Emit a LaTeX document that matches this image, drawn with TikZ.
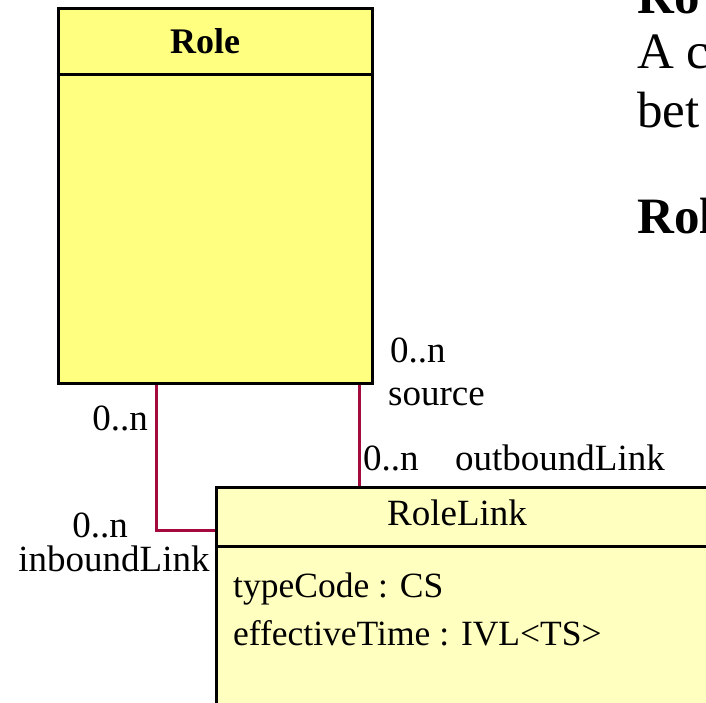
\documentclass[tikz,border=0pt]{standalone}
\usepackage{fontspec}
\setmainfont{Liberation Serif}
\definecolor{rolefill}{RGB}{255,255,128}
\definecolor{linkfill}{RGB}{255,255,192}
\definecolor{assoc}{RGB}{165,10,60}
\newcommand\lblsize{\fontsize{37}{44}\selectfont}
\newcommand\attrsize{\fontsize{35.5}{42}\selectfont}
\newcommand\bigsize{\fontsize{51}{59}\selectfont}
\tikzset{
  classbox/.style={draw=black, line width=3pt, rectangle, inner sep=0pt},
  conn/.style={draw=assoc, line width=2.5pt},
  lbl/.style={inner sep=0pt, font=\lblsize},
  attr/.style={inner sep=0pt, font=\attrsize, anchor=base west},
  bigtxt/.style={inner sep=0pt, font=\bigsize, anchor=base west},
}
\begin{document}
\begin{tikzpicture}[x=1pt, y=-1pt]
\clip (0,0) rectangle (706,702);
\fill[white] (0,0) rectangle (706,702);
% Role class
\node[classbox, fill=rolefill, minimum width=314pt, minimum height=375pt] (role) at (215,195.5) {};
\draw[line width=3pt] ([yshift=-68pt]role.north west) -- ([yshift=-68pt]role.north east);
\node[inner sep=0pt, font=\fontsize{36}{42}\selectfont\bfseries, anchor=base] (roletitle) at (205,53) {Role};
% RoleLink class
\node[classbox, fill=linkfill, minimum width=544pt, minimum height=273pt] (rolelink) at (488,623.5) {};
\draw[line width=3pt] ([yshift=-61pt]rolelink.north west) -- ([yshift=-61pt]rolelink.north east);
\node[lbl, anchor=base] (rltitle) at (457,525) {RoleLink};
\node[attr] (a1) at (233,597) {typeCode : CS};
\node[attr] (a2) at (233,645) {effectiveTime : IVL<TS>};
% connectors
\coordinate (inTop) at ([xshift=100pt]role.south west);
\draw[conn] (inTop) |- ([yshift=-45pt]rolelink.north west);
\coordinate (outTop) at ([xshift=-14pt]role.south east);
\draw[conn] (outTop) -- (outTop |- rolelink.north);
% labels
\node[lbl, anchor=base] (m1) at (120,430) {0..n};
\node[lbl, anchor=base] (m2) at (100,537) {0..n};
\node[lbl, anchor=base] (r1) at (114,571) {inboundLink};
\node[lbl, anchor=base west] (m3) at (390,362) {0..n};
\node[lbl, anchor=base west] (r2) at (388,405) {source};
\node[lbl, anchor=base west] (m4) at (363,470) {0..n};
\node[lbl, anchor=base west] (r3) at (455,470) {outboundLink};
% clipped slide text on the right
\node[bigtxt, font=\bigsize\bfseries] (t0) at (637,13) {Ro};
\node[bigtxt] (t1) at (637,68) {A c};
\node[bigtxt] (t2) at (637,127) {bet};
\node[bigtxt, font=\bigsize\bfseries] (t3) at (637,233) {Rol};
\end{tikzpicture}
\end{document}
